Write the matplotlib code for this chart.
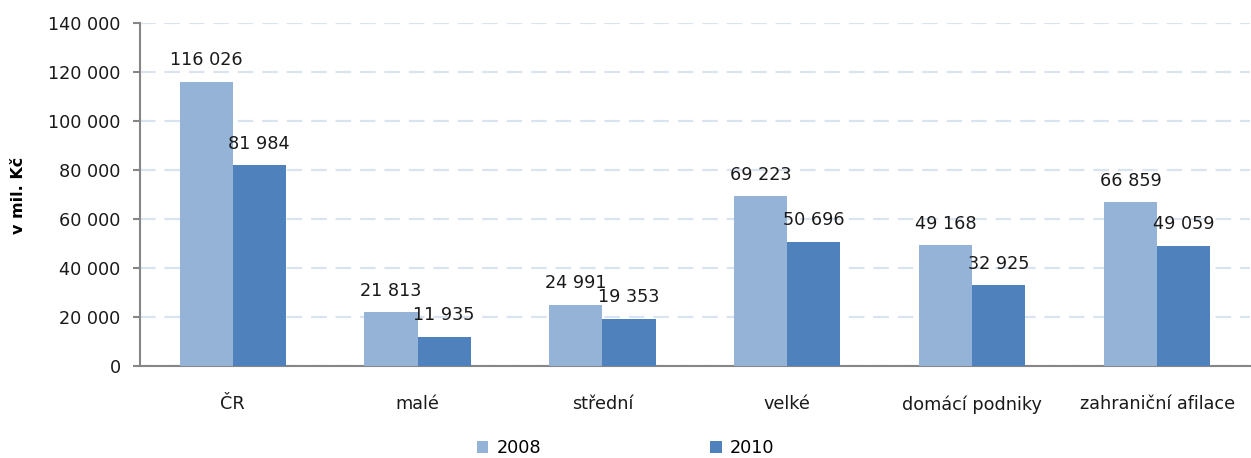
import matplotlib
matplotlib.use("Agg")
import matplotlib.pyplot as plt
import numpy as np

categories = ["ČR", "malé", "střední", "velké", "domácí podniky", "zahraniční afilace"]
values_2008 = [116026, 21813, 24991, 69223, 49168, 66859]
values_2010 = [81984, 11935, 19353, 50696, 32925, 49059]
series_names = ["2008", "2010"]
y_ticks = [0, 20000, 40000, 60000, 80000, 100000, 120000, 140000]

COLOR_2008 = "#95b3d7"
COLOR_2010 = "#4f81bd"
GRID_COLOR = "#dae4f1"
AXIS_COLOR = "#868686"
FS = 12.7

plt.rcParams["font.family"] = ["DejaVu Sans"]


def fmt(v):
    return "{:,}".format(int(v)).replace(",", " ")


fig = plt.figure(figsize=(12.51, 4.58), dpi=100)
ax = fig.add_axes([0.112, 0.201, 0.887, 0.749])

x = np.arange(len(categories))
width = 0.287

bars_a = ax.bar(x - width / 2, values_2008, width, color=COLOR_2008, label=series_names[0], zorder=3)
bars_b = ax.bar(x + width / 2, values_2010, width, color=COLOR_2010, label=series_names[1], zorder=3)

for bars in (bars_a, bars_b):
    for b in bars:
        ax.annotate(fmt(b.get_height()), (b.get_x() + b.get_width() / 2, b.get_height()),
                    xytext=(0, 9), textcoords="offset points", ha="center", va="bottom",
                    fontsize=FS, color="#1a1a1a")

ax.set_xlim(-0.5, len(categories) - 0.5)
ax.set_ylim(0, 140000)
ax.set_yticks(y_ticks)
ax.set_yticklabels([fmt(t) for t in y_ticks], fontsize=FS, color="#1a1a1a")
ax.set_xticks(x)
ax.set_xticklabels(categories, fontsize=FS, color="#1a1a1a")
ax.tick_params(axis="x", length=0, pad=21)
ax.tick_params(axis="y", length=5, color=AXIS_COLOR, width=1.5, pad=9)

ax.yaxis.grid(True, color=GRID_COLOR, linestyle=(0, (7, 4)), linewidth=1.6, zorder=0)
ax.set_axisbelow(True)

for s in ("top", "right"):
    ax.spines[s].set_visible(False)
for s in ("left", "bottom"):
    ax.spines[s].set_color(AXIS_COLOR)
    ax.spines[s].set_linewidth(1.5)

fig.text(19 / 1251, 1 - 195 / 458, "v mil. Kč", rotation=90, ha="center", va="center",
         fontsize=11.5, fontweight="bold")

fig.legend(handles=[bars_a, bars_b], labels=series_names, loc="center",
           bbox_to_anchor=(0.5, 0.022), ncol=2, frameon=False, fontsize=FS,
           handlelength=0.65, handleheight=0.65, handletextpad=0.45, columnspacing=9.6)

fig.savefig("out.png", dpi=100)
